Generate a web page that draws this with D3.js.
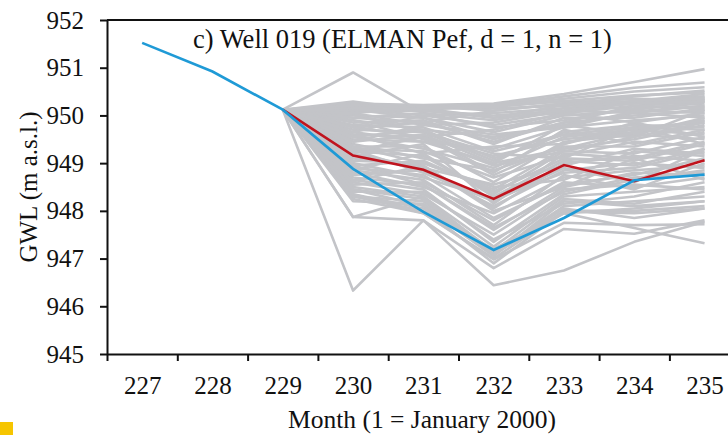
<!DOCTYPE html>
<html>
<head>
<meta charset="utf-8">
<script src="https://cdn.jsdelivr.net/npm/d3@7"></script>
<style>
  html, body { margin: 0; padding: 0; background: #fff; }
  svg { display: block; }
</style>
</head>
<body>
<svg id="chart" width="728" height="435"></svg>
<script>
(function () {
  'use strict';

  // months on the x axis (1 = January 2000)
  const months = [227, 228, 229, 230, 231, 232, 233, 234, 235];
  const yTicks = [945, 946, 947, 948, 949, 950, 951, 952];

  // observed GWL (blue)
  const observed = [951.52, 950.92, 950.12, 948.88, 947.98, 947.18, 947.85, 948.64, 948.76];

  // forecast months and the predicted run (red)
  const forecastMonths = [229, 230, 231, 232, 233, 234, 235];
  const predicted = [950.12, 949.16, 948.86, 948.25, 948.96, 948.62, 949.06];

  // every ensemble member starts from the last observed value
  const ensembleStart = 950.12;
  // ensemble members (grey), values for months 230..235
  const ensemble = [
    [948.25, 947.95, 947.00, 948.00, 948.00, 948.10],
    [948.35, 948.05, 946.90, 947.98, 947.95, 948.05],
    [948.30, 948.20, 947.10, 948.10, 948.20, 948.30],
    [948.45, 948.10, 947.05, 948.20, 948.10, 948.20],
    [948.50, 948.30, 947.25, 948.30, 948.40, 948.50],
    [948.40, 948.40, 947.40, 948.15, 948.30, 948.60],
    [948.60, 948.35, 947.50, 948.45, 948.55, 948.45],
    [948.70, 948.55, 947.65, 948.40, 948.70, 948.80],
    [948.55, 948.60, 947.80, 948.60, 948.50, 948.70],
    [948.80, 948.50, 947.95, 948.70, 948.85, 948.95],
    [948.90, 948.75, 947.85, 948.55, 948.75, 949.10],
    [948.75, 948.85, 948.10, 948.85, 949.00, 948.90],
    [949.00, 948.70, 948.25, 948.80, 948.90, 949.25],
    [949.10, 948.95, 948.05, 949.00, 949.15, 949.05],
    [948.95, 949.05, 948.40, 949.10, 949.05, 949.40],
    [949.20, 948.90, 948.55, 948.95, 949.30, 949.20],
    [949.25, 949.15, 948.35, 949.25, 949.20, 949.55],
    [949.30, 949.25, 948.70, 949.15, 949.45, 949.35],
    [949.40, 949.10, 948.85, 949.35, 949.35, 949.65],
    [949.35, 949.35, 948.60, 949.45, 949.60, 949.50],
    [949.50, 949.45, 949.00, 949.30, 949.50, 949.80],
    [949.55, 949.30, 948.90, 949.55, 949.70, 949.60],
    [949.60, 949.55, 949.15, 949.50, 949.65, 949.90],
    [949.70, 949.65, 949.05, 949.65, 949.80, 949.75],
    [949.65, 949.45, 949.30, 949.75, 949.90, 950.00],
    [949.80, 949.75, 949.25, 949.60, 949.75, 949.85],
    [949.75, 949.85, 949.45, 949.85, 950.00, 950.10],
    [949.90, 949.70, 949.55, 949.80, 950.05, 949.95],
    [949.85, 949.90, 949.40, 949.95, 949.95, 950.15],
    [950.00, 949.95, 949.65, 950.00, 950.10, 950.05],
    [949.95, 950.05, 949.75, 949.90, 950.15, 950.25],
    [950.05, 949.80, 949.85, 950.10, 950.05, 950.20],
    [950.10, 950.10, 949.95, 950.05, 950.20, 950.30],
    [950.15, 950.00, 950.05, 950.15, 950.25, 950.35],
    [950.20, 950.15, 950.15, 950.20, 950.30, 950.40],
    [950.18, 950.20, 950.10, 950.25, 950.35, 950.32],
    [950.08, 950.12, 950.20, 950.30, 950.28, 950.38],
    [949.45, 949.60, 948.80, 949.70, 949.40, 949.70],
    [949.15, 949.40, 948.15, 949.20, 949.10, 949.45],
    [948.65, 948.45, 947.35, 948.35, 948.65, 948.85],
    [948.85, 948.65, 947.70, 948.75, 948.45, 949.00],
    [949.05, 949.00, 948.50, 948.65, 949.25, 949.15],
    [949.60, 949.20, 949.35, 949.40, 949.85, 949.55],
    [949.28, 948.80, 948.20, 948.90, 948.60, 949.30],
    [948.62, 948.95, 948.00, 948.50, 949.10, 948.65],
    [949.90, 949.50, 948.95, 949.25, 949.55, 950.12],
    [950.02, 949.65, 949.20, 949.10, 949.75, 949.40],
    [949.45, 949.80, 949.60, 949.75, 950.08, 950.20],
    [949.75, 949.55, 949.70, 950.05, 949.85, 950.05],
    [950.12, 949.95, 949.50, 949.85, 950.20, 950.15],
    [949.55, 949.70, 949.10, 949.60, 949.55, 949.85],
    [949.25, 949.55, 948.75, 949.40, 949.75, 949.70],
    [948.85, 949.20, 948.30, 949.05, 948.95, 949.30],
    [949.95, 949.85, 950.10, 950.25, 950.12, 950.28],
    [949.65, 950.00, 949.80, 950.02, 950.30, 950.45],
    [948.95, 948.55, 947.60, 948.50, 948.80, 948.75],
    [949.20, 949.60, 949.00, 949.80, 949.60, 949.95],
    [950.05, 950.15, 949.95, 950.22, 950.40, 950.52],
    [949.35, 949.00, 948.45, 949.30, 949.65, 949.90],
    [950.25, 950.22, 950.25, 950.45, 950.70, 950.97],
    [950.20, 950.20, 950.22, 950.40, 950.58, 950.69],
    [950.15, 950.18, 950.20, 950.35, 950.50, 950.59],
    [950.10, 950.15, 950.18, 950.30, 950.42, 950.48],
    [950.90, 950.05, 949.90, 950.15, 950.30, 950.35],
    [950.29, 950.10, 950.00, 950.10, 950.25, 950.30],
    [946.33, 947.80, 946.44, 946.75, 947.35, 947.77],
    [947.87, 947.80, 946.80, 947.62, 947.52, 947.80],
    [947.87, 948.30, 947.10, 947.95, 948.05, 948.20],
    [948.30, 948.00, 947.20, 947.95, 947.64, 947.32],
    [948.35, 947.95, 946.98, 947.75, 947.70, 947.72],
    [948.20, 948.15, 947.08, 948.05, 947.85, 948.05],
    [948.45, 948.25, 947.15, 948.25, 948.15, 948.40]
  ];

  const titleText = 'c) Well 019 (ELMAN Pef, d = 1, n = 1)';
  const xTitle = 'Month (1 = January 2000)';
  const yTitle = 'GWL (m a.s.l.)';

  const serif = '"Liberation Serif", "Times New Roman", Times, "DejaVu Serif", serif';

  const svg = d3.select('#chart')
    .attr('font-family', serif);
  const left = 107, top = 20, bottom = 354;
  const step = 70.3;

  const x = d3.scaleLinear()
    .domain([226.5, 235.5])
    .range([left, left + 9 * step]);
  const y = d3.scaleLinear()
    .domain([945, 952])
    .range([bottom, top]);

  const line = d3.line()
    .x((d) => x(d[0]))
    .y((d) => y(d[1]));

  // grey ensemble
  svg.append('g')
    .selectAll('path')
    .data(ensemble)
    .enter()
    .append('path')
    .attr('d', (vals) => line(forecastMonths.map((m, i) => [m, i === 0 ? ensembleStart : vals[i - 1]])))
    .attr('fill', 'none')
    .attr('stroke', '#c3c4c8')
    .attr('stroke-width', 2.6)
    .attr('stroke-linejoin', 'round');

  svg.append('path')
    .attr('d', line(forecastMonths.map((m, i) => [m, predicted[i]])))
    .attr('fill', 'none')
    .attr('stroke', '#c0141e')
    .attr('stroke-width', 2.6);

  svg.append('path')
    .attr('d', line(months.map((m, i) => [m, observed[i]])))
    .attr('fill', 'none')
    .attr('stroke', '#1f9ad6')
    .attr('stroke-width', 2.6);

  // axes
  const boundaries = d3.range(226.5, 236, 1);
  svg.append('g')
    .attr('transform', 'translate(0,' + bottom + ')')
    .call(d3.axisBottom(x).tickValues(boundaries).tickFormat('').tickSize(7).tickSizeOuter(0))
    .call((g) => {
      g.selectAll('line, path').attr('stroke', '#111').attr('stroke-width', 2);
    });
  svg.append('g')
    .attr('transform', 'translate(0,' + bottom + ')')
    .call(d3.axisBottom(x).tickValues(months).tickFormat(d3.format('d')).tickSize(0).tickPadding(22))
    .call((g) => {
      g.attr('font-family', serif).attr('font-size', 25);
      g.select('.domain').remove();
      g.selectAll('text').attr('fill', '#111');
    });

  svg.append('g')
    .attr('transform', 'translate(' + left + ',0)')
    .call(d3.axisLeft(y).tickValues(yTicks).tickFormat(d3.format('d')).tickSize(7).tickPadding(16).tickSizeOuter(0))
    .call((g) => {
      g.attr('font-family', serif).attr('font-size', 25);
      g.selectAll('line, path').attr('stroke', '#111').attr('stroke-width', 2);
      g.selectAll('text').attr('fill', '#111');
    });

  // top frame line
  svg.append('line')
    .attr('x1', left).attr('x2', x(235.5))
    .attr('y1', top).attr('y2', top)
    .attr('stroke', '#111').attr('stroke-width', 2);

  svg.append('text')
    .attr('x', 193)
    .attr('y', 48)
    .attr('font-size', 26.5)
    .attr('fill', '#111')
    .text(titleText);

  svg.append('text')
    .attr('x', 422)
    .attr('y', 428)
    .attr('text-anchor', 'middle')
    .attr('font-size', 25.5)
    .attr('fill', '#111')
    .text(xTitle);

  svg.append('text')
    .attr('transform', 'translate(37,' + (top + bottom) / 2 + ') rotate(-90)')
    .attr('text-anchor', 'middle')
    .attr('font-size', 25)
    .attr('fill', '#111')
    .text(yTitle);

  // yellow corner mark
  svg.append('rect')
    .attr('x', 0).attr('y', 422)
    .attr('width', 13).attr('height', 13)
    .attr('fill', '#f6c500');
}());
</script>
</body>
</html>
